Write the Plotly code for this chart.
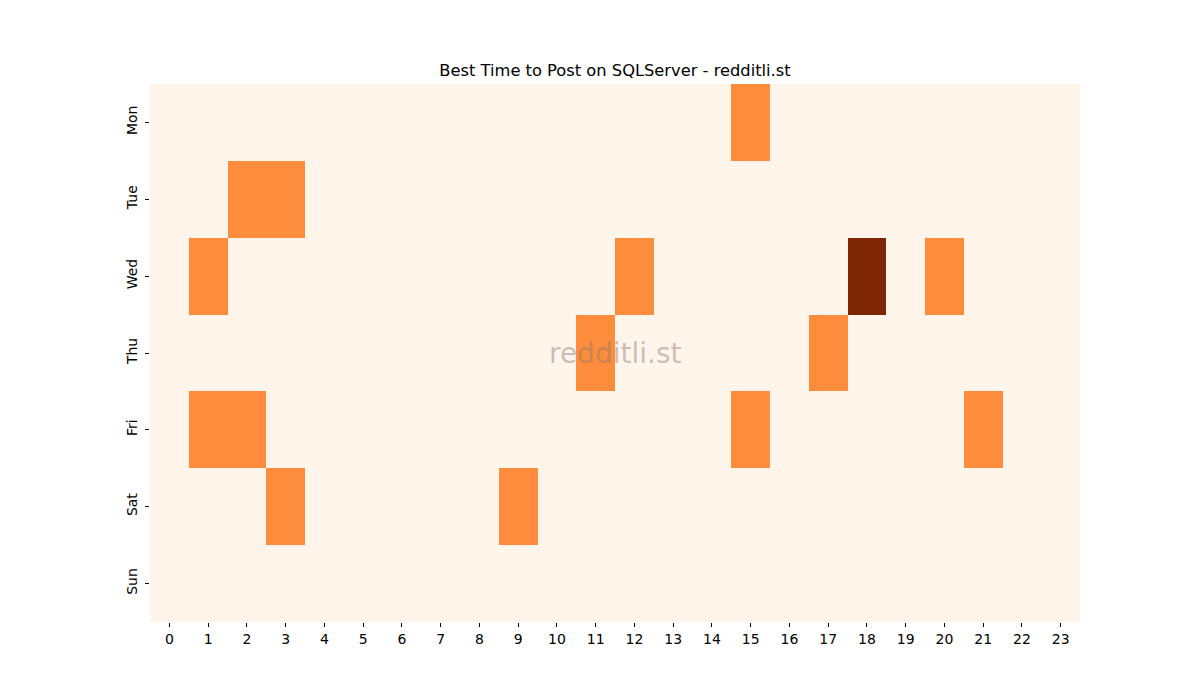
import plotly.graph_objects as go

hours = list(range(24))
days = ["Mon", "Tue", "Wed", "Thu", "Fri", "Sat", "Sun"]

# counts per day (rows) and hour (columns)
mon = [0]*15 + [1] + [0]*8
tue = [0, 0, 1, 1] + [0]*20
wed = [0, 1] + [0]*10 + [1] + [0]*5 + [2, 0, 1] + [0]*3
thu = [0]*11 + [1] + [0]*5 + [1] + [0]*6
fri = [0, 1, 1] + [0]*12 + [1] + [0]*5 + [1, 0, 0]
sat = [0, 0, 0, 1] + [0]*5 + [1] + [0]*14
sun = [0]*24

z = [mon, tue, wed, thu, fri, sat, sun]

fig = go.Figure(go.Heatmap(
    z=z, x=hours, y=days,
    colorscale=[[0, "#fff5eb"], [0.5, "#fd8d3c"], [1, "#7f2704"]],
    zmin=0, zmax=2, showscale=False, xgap=0, ygap=0,
    hovertemplate="%{y} %{x}:00 – %{z}<extra></extra>",
))

fig.update_layout(
    width=1200, height=700,
    margin=dict(l=142, r=128, t=76, b=86),
    paper_bgcolor="white", plot_bgcolor="white",
    font=dict(family="DejaVu Sans", size=14, color="black"),
    title=dict(text="Best Time to Post on SQLServer - redditli.st", x=0.5, xanchor="center",
               xref="paper",
               y=1 - 62/700, yanchor="middle", font=dict(size=16.3, color="black")),
    xaxis=dict(tickmode="array", tickvals=hours, ticktext=[str(h) for h in hours],
               ticks="outside", ticklen=4, tickcolor="black", showgrid=False,
               zeroline=False, showline=False, tickangle=0),
    yaxis=dict(autorange="reversed", ticks="outside", ticklen=4, tickcolor="black",
               showgrid=False, zeroline=False, showline=False, tickangle=-90,
               ticklabelstandoff=2),
    annotations=[dict(text="redditli.st", x=0.5, y=0.5, xref="paper", yref="paper",
                      showarrow=False, font=dict(size=28, color="rgba(140,120,110,0.45)"))],
)

fig.write_html("out.html")
